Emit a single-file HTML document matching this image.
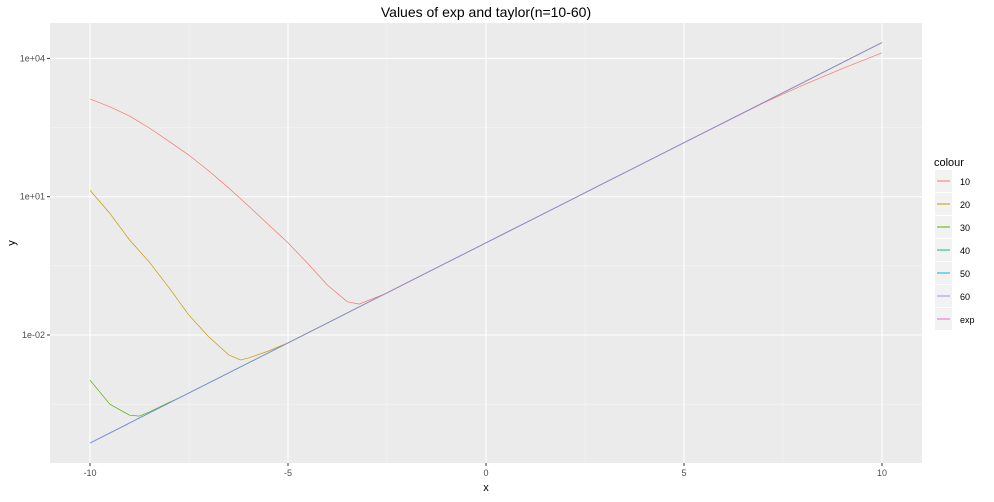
<!DOCTYPE html>
<html><head><meta charset="utf-8"><style>
body{margin:0;background:#fff;font-family:"Liberation Sans",Arial,sans-serif}
svg text{font-family:"Liberation Sans",Arial,sans-serif}
</style></head><body>
<svg id="chart" width="994" height="497" viewBox="0 0 994 497">
<text x="486" y="17" text-anchor="middle" font-size="14" fill="#000">Values of exp and taylor(n=10-60)</text>
<rect x="50" y="23" width="872" height="440" fill="#EBEBEB"/>
<g id="grid"></g>
<g id="series"></g>
<g id="axes"></g>
<text x="486" y="491" text-anchor="middle" font-size="11" fill="#000">x</text>
<text x="15" y="243" text-anchor="middle" font-size="11" fill="#000" transform="rotate(-90 15 243)">y</text>
<g id="legend">
<text x="934" y="166" font-size="11" fill="#000">colour</text>
</g>
</svg>
<script>
const xTicks=[-10,-5,0,5,10];
const xTickLabels=["-10","-5","0","5","10"];
const yTicks=[1e4,1e1,1e-2];
const yTickLabels=["1e+04","1e+01","1e-02"];
const seriesNames=["10","20","30","40","50","60","exp"];
const seriesColors=["#F8766D","#C49A00","#53B400","#00C094","#00B6EB","#A58AFF","#FB61D7"];
const expX=[-10,-9,-8,-7,-6,-5,-4,-3,-2,-1,0,1,2,3,4,5,6,7,8,9,10];
const expY=[4.54e-5,1.234e-4,3.355e-4,9.12e-4,2.479e-3,6.74e-3,0.01832,0.04979,0.1353,0.3679,1,2.718,7.389,20.09,54.6,148.4,403.4,1097,2981,8103,22026];
const n10X=[-10,-9.5,-9,-8.5,-8,-7.5,-7,-6.5,-6,-5.5,-5,-4.5,-4,-3.5,-3.2,-3,-2.5,-2,-1,0,1,2,3,4,5,6,7,8,9,10];
const n10Y=[1318,891,562,309,158,79.4,36.3,15.5,6.31,2.51,1.0,0.355,0.120,0.0525,0.0468,0.0550,0.0813,0.135,0.368,1,2.72,7.39,20.1,54.6,148,398,1072,2630,6030,13200];
const n20X=[-10,-9.5,-9,-8.5,-8,-7.5,-7,-6.5,-6.2,-6,-5.5,-5,-4.5,-4,-3,-2,-1,0,1,2,3,4,5,6,7,8,9,10];
const n20Y=[13.8,4.37,1.15,0.38,0.105,0.0269,0.00912,0.00372,0.00288,0.00316,0.00447,0.00676,0.0112,0.01832,0.04979,0.1353,0.3679,1,2.718,7.389,20.09,54.6,148.4,403.4,1097,2981,8103,22026];
const n30X=[-10,-9.5,-9,-8.75,-8.5,-8,-7.75,-7,-6,-5,-4,-3,-2,-1,0,1,2,3,4,5,6,7,8,9,10];
const n30Y=[1.05e-3,3.16e-4,1.82e-4,1.74e-4,2.14e-4,3.47e-4,4.3e-4,9.12e-4,2.479e-3,6.74e-3,0.01832,0.04979,0.1353,0.3679,1,2.718,7.389,20.09,54.6,148.4,403.4,1097,2981,8103,22026];

const NS="http://www.w3.org/2000/svg";
const X=v=>486+v*39.6;
const Y=v=>196.7-(Math.log10(v)-1)*46.1;
function mk(tag,attrs,parent){const e=document.createElementNS(NS,tag);for(const k in attrs)e.setAttribute(k,attrs[k]);parent.appendChild(e);return e;}
const grid=document.getElementById('grid'),axes=document.getElementById('axes'),ser=document.getElementById('series'),leg=document.getElementById('legend');
[-7.5,-2.5,2.5,7.5].forEach(v=>{const l=mk('line',{x1:X(v),x2:X(v),y1:23,y2:463,stroke:'#F5F5F5','stroke-width':0.6},grid);

});
[Math.pow(10,2.5),Math.pow(10,-0.5),Math.pow(10,-3.5)].forEach(v=>{const l=mk('line',{x1:50,x2:922,y1:Y(v),y2:Y(v),stroke:'#F5F5F5','stroke-width':0.6},grid);

});
xTicks.forEach((v,i)=>{const l=mk('line',{x1:X(v),x2:X(v),y1:23,y2:463,stroke:'#fff','stroke-width':1.1},grid);


const t=mk('line',{x1:X(v),x2:X(v),y1:463,y2:466,stroke:'#333'},axes);


const tx=mk('text',{x:X(v),y:476,'text-anchor':'middle','font-size':9,fill:'#4D4D4D'},axes);tx.textContent=xTickLabels[i];

});
yTicks.forEach((v,i)=>{const l=mk('line',{x1:50,x2:922,y1:Y(v),y2:Y(v),stroke:'#fff','stroke-width':1.1},grid);


const t=mk('line',{x1:47,x2:50,y1:Y(v),y2:Y(v),stroke:'#333'},axes);


const tx=mk('text',{x:45,y:Y(v)+3,'text-anchor':'end','font-size':9,fill:'#4D4D4D'},axes);tx.textContent=yTickLabels[i];

});
function line(xs,ys,col,name){const p=mk('polyline',{points:xs.map((x,i)=>X(x)+','+Y(ys[i])).join(' '),fill:'none',stroke:col,'stroke-width':0.7,'stroke-linejoin':'round'},ser);

}
line(expX,expY,seriesColors[6],'series-exp');
line(expX,expY,seriesColors[4],'series-50');
line(expX,expY,seriesColors[3],'series-40');
line(n30X,n30Y,seriesColors[2],'series-30');
line(n20X,n20Y,seriesColors[1],'series-20');
line(n10X,n10Y,seriesColors[0],'series-10');
line(expX,expY,'#8E86FF','series-60');
seriesNames.forEach((n,i)=>{const y0=170+i*23;
const g=mk('g',{},leg);


mk('rect',{x:935,y:y0,width:17,height:22,fill:'#F2F2F2'},g);
mk('line',{x1:937,x2:950,y1:y0+11,y2:y0+11,stroke:seriesColors[i],'stroke-width':1},g);
const t=mk('text',{x:960,y:y0+15,'font-size':9,fill:'#000'},g);t.textContent=n;});
</script>
</body></html>
